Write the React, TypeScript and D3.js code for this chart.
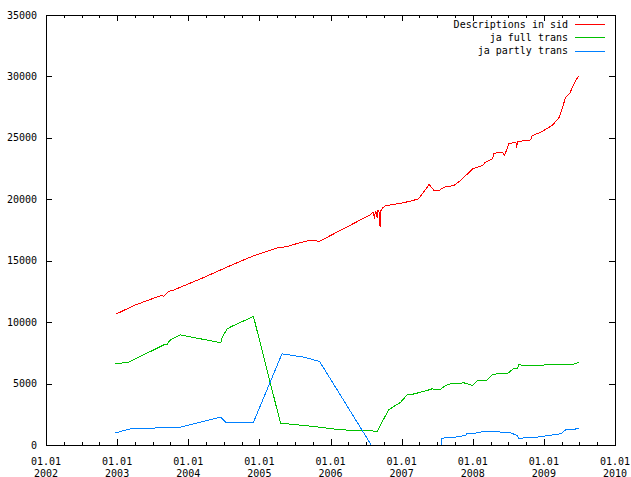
import React from 'react';
import * as d3 from 'd3';

const W = 631;
const H = 477;
const M = { top: 15, right: 16, bottom: 32, left: 46 };

// decimal years / counts
const sidYears = [2002.98, 2003.23, 2003.61, 2003.65, 2003.72, 2003.78, 2003.86, 2004.17, 2004.59, 2004.92,
  2005.25, 2005.39, 2005.46, 2005.69, 2005.84, 2006.56, 2006.59, 2006.61, 2006.63, 2006.65, 2006.66,
  2006.68, 2006.69, 2006.70, 2006.72, 2006.77, 2006.86, 2006.98, 2007.12, 2007.23, 2007.3, 2007.38, 2007.45,
  2007.52, 2007.59, 2007.73, 2007.82, 2007.92, 2007.99, 2008.13, 2008.17, 2008.27, 2008.29, 2008.41, 2008.44,
  2008.5, 2008.6, 2008.61, 2008.62, 2008.67, 2008.81, 2008.83, 2008.95, 2009.11, 2009.21, 2009.3, 2009.36,
  2009.42, 2009.48];
const sidValues = [10700, 11396, 12209, 12150, 12559, 12616, 12830, 13574, 14651, 15465,
  16090, 16200, 16337, 16686, 16630, 18800, 19000, 18600, 19100, 18500, 19200,
  18900, 17800, 19100, 19300, 19535, 19600, 19720, 19890, 20080, 20620, 21250, 20756,
  20760, 21026, 21163, 21570, 22113, 22520, 22791, 23060, 23333, 23790, 23870, 23600,
  24550, 24690, 24200, 24700, 24770, 24880, 25230, 25500, 26047, 26720, 28350, 28700,
  29500, 30070];

const fullYears = [2002.97, 2003.16, 2003.65, 2003.70, 2003.73, 2003.88, 2004.45, 2004.47, 2004.54, 2004.63,
  2004.91, 2005.29, 2005.76, 2006.14, 2006.65, 2006.81, 2006.98, 2007.07, 2007.17, 2007.35, 2007.42, 2007.53,
  2007.61, 2007.68, 2007.87, 2007.99, 2008.06, 2008.19, 2008.27, 2008.34, 2008.48, 2008.56, 2008.62, 2008.64,
  2008.71, 2009.09, 2009.39, 2009.49];
const fullValues = [6648, 6783, 8196, 8221, 8547, 9010, 8359, 8815, 9499, 9767,
  10500, 1818, 1546, 1275, 1167, 2903, 3527, 4120, 4200, 4476, 4612, 4531,
  4883, 5018, 5100, 4883, 5290, 5290, 5754, 5836, 5836, 6243, 6243, 6593,
  6512, 6566, 6593, 6783];

const partlyYears = [2002.97, 2003.18, 2003.88, 2004.45, 2004.52, 2004.91, 2005.31, 2005.62, 2005.84, 2006.57,
  2007.55, 2007.55, 2007.75, 2007.89, 2007.91, 2008.06, 2008.17, 2008.29, 2008.39, 2008.5, 2008.62, 2008.64,
  2008.71, 2008.9, 2009.12, 2009.23, 2009.3, 2009.4, 2009.49];
const partlyValues = [1030, 1356, 1492, 2306, 1898, 1898, 7461, 7190, 6837, 0,
  0, 593, 678, 814, 949, 1030, 1167, 1167, 1085, 1085, 814, 543,
  624, 678, 868, 949, 1275, 1275, 1438];

const seriesNames = ['Descriptions in sid', 'ja full trans', 'ja partly trans'];
const seriesColors = ['#ff0000', '#00c000', '#0080ff'];
const yTicks = [0, 5000, 10000, 15000, 20000, 25000, 30000, 35000];
const xYears = [2002, 2003, 2004, 2005, 2006, 2007, 2008, 2009, 2010];

const FONT = '"DejaVu Sans Mono", monospace';

export default function App() {
  const x = d3.scaleLinear().domain([2002, 2010]).range([M.left, W - M.right]);
  const y = d3.scaleLinear().domain([0, 35000]).range([H - M.bottom, M.top]);
  const x0 = M.left, x1 = W - M.right, y0 = H - M.bottom, y1 = M.top;

  // half-pixel shift so marks sit on pixel rows like the border does
  const line = d3.line<[number, number]>().x(d => x(d[0]) + 0.5).y(d => y(d[1]) + 0.5);
  const series = [
    d3.zip(sidYears, sidValues) as [number, number][],
    d3.zip(fullYears, fullValues) as [number, number][],
    d3.zip(partlyYears, partlyValues) as [number, number][],
  ];

  const minor = d3.range(2002, 2010, 0.25).filter(v => v % 1 !== 0);
  const px = (v: number) => Math.round(v) + 0.5;

  return (
    <div style={{ position: 'absolute', left: 0, top: 0, width: W, height: H, background: '#fff' }}>
      <svg width={W} height={H} style={{ display: 'block' }}>
        <rect width={W} height={H} fill="#fff" />
        <g shapeRendering="crispEdges" stroke="#000" strokeWidth={1}>
          {yTicks.slice(1, -1).map(t => (
            <g key={t}>
              <line x1={x0} x2={x0 + 6} y1={px(y(t))} y2={px(y(t))} />
              <line x1={x1 - 6} x2={x1} y1={px(y(t))} y2={px(y(t))} />
            </g>
          ))}
          {xYears.slice(1, -1).map(t => (
            <g key={t}>
              <line x1={px(x(t))} x2={px(x(t))} y1={y0} y2={y0 - 6} />
              <line x1={px(x(t))} x2={px(x(t))} y1={y1} y2={y1 + 6} />
            </g>
          ))}
          {minor.map(t => (
            <g key={t}>
              <line x1={px(x(t))} x2={px(x(t))} y1={y0} y2={y0 - 3} />
              <line x1={px(x(t))} x2={px(x(t))} y1={y1} y2={y1 + 3} />
            </g>
          ))}
        </g>
        <g fontFamily={FONT} fontSize={10} fill="#000">
          {yTicks.map(t => (
            <text key={t} x={x0 - 9} y={y(t)} dy="0.35em" textAnchor="end">{t}</text>
          ))}
          {xYears.map(t => (
            <text key={t} x={x(t)} y={y0 + 16} dy="0.35em" textAnchor="middle">
              <tspan x={x(t)}>01.01</tspan>
              <tspan x={x(t)} dy={12}>{t}</tspan>
            </text>
          ))}
        </g>
        <g fill="none" strokeWidth={1} shapeRendering="crispEdges">
          {series.map((s, i) => (
            <path key={i} d={line(s) ?? ''} stroke={seriesColors[i]} />
          ))}
        </g>
        <g fontFamily={FONT} fontSize={10}>
          {seriesNames.map((n, i) => (
            <g key={n}>
              <text x={568} y={24 + i * 13.3} dy="0.35em" textAnchor="end" fill="#000">{n}</text>
              <line x1={575} x2={605} y1={24.5 + Math.round(i * 13.3)} y2={24.5 + Math.round(i * 13.3)}
                stroke={seriesColors[i]} strokeWidth={1} shapeRendering="crispEdges" />
            </g>
          ))}
        </g>
        <rect x={x0 + 0.5} y={y1 + 0.5} width={x1 - x0} height={y0 - y1} fill="none" stroke="#000"
          shapeRendering="crispEdges" />
      </svg>
    </div>
  );
}
